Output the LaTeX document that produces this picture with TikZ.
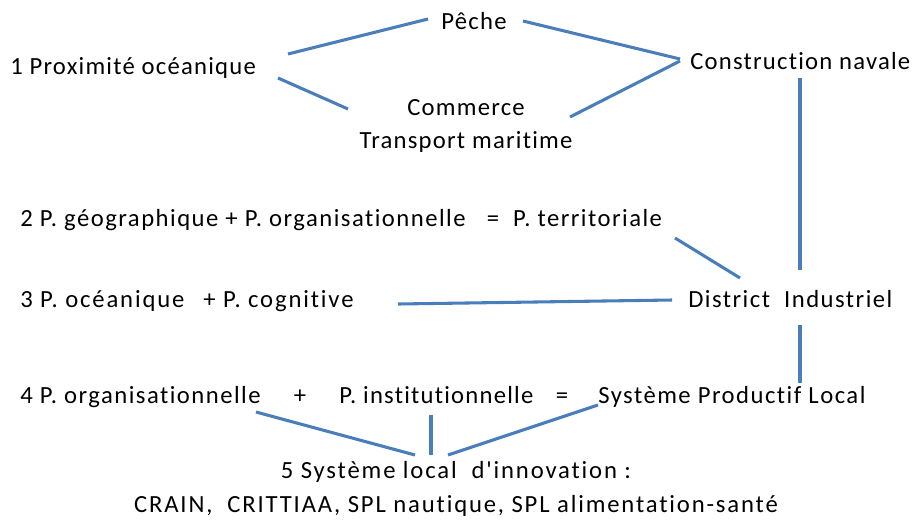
\documentclass[tikz,border=0pt]{standalone}
\usepackage{fontspec}
\setmainfont{Carlito}
\newfontfamily\wide[LetterSpace=5,Ligatures=NoCommon]{Carlito}
\newfontfamily\narrowf[LetterSpace=6,Ligatures=NoCommon]{Carlito}
\newfontfamily\widerf[LetterSpace=7.5,Ligatures=NoCommon]{Carlito}
\definecolor{lnblue}{HTML}{4A7EBB}
\tikzset{
  lbl/.style={inner sep=0pt, font=\fontsize{18.5}{22}\wide, text=black},
  nlbl/.style={inner sep=0pt, font=\fontsize{18.5}{22}\narrowf, text=black},
  wlbl/.style={inner sep=0pt, font=\fontsize{18.5}{22}\widerf, text=black},
  conn/.style={draw=lnblue, line width=2.3pt}
}
\begin{document}
\begin{tikzpicture}[x=0.75pt,y=-0.75pt]
\useasboundingbox (0,0) rectangle (914,519);
% row 1
\node[lbl] (peche) at (474,21) {Pêche};
\node[lbl,anchor=west] (prox) at (10,68) {1 Proximité océanique};
\node[lbl,align=center] (comm) at (466,126) {Commerce\\[3pt]Transport maritime};
\node[lbl,anchor=west] (navale) at (690,61) {Construction navale};
\coordinate (a1) at (288,54); \coordinate (a2) at (428,19);
\coordinate (b1) at (278,78); \coordinate (b2) at (348,109);
\coordinate (c1) at (523,21); \coordinate (c2) at (680,59);
\coordinate (d1) at (570,117); \coordinate (d2) at (680,61);
\draw[conn] (a1) -- (a2);
\draw[conn] (b1) -- (b2);
\draw[conn] (c1) -- (c2);
\draw[conn] (d1) -- (d2);
\coordinate (e1) at (800,78); \coordinate (e2) at (800,270);
\draw[conn] (e1) -- (e2);
% row 2
\node[nlbl,anchor=west] (terr) at (20,220) {2 P. géographique + P. organisationnelle \ \ = \ P. territoriale};
\coordinate (f1) at (675,238); \coordinate (f2) at (740,278);
\draw[conn] (f1) -- (f2);
% row 3
\node[nlbl,anchor=base west] (dist) at (688,307) {District \ Industriel};
\node[wlbl,anchor=base west] (cogn) at (20,307) {3 P. océanique \ \,+ P. cognitive};
\coordinate (g1) at (398,304); \coordinate (g2) at (672,300);
\draw[conn] (g1) -- (g2);
\coordinate (h1) at (800,325); \coordinate (h2) at (800,383);
\draw[conn] (h1) -- (h2);
% row 4
\node[nlbl,anchor=base west] (org) at (20,403) {4 P. organisationnelle};
\node[nlbl,anchor=base] (plus) at (300,403) {+};
\node[lbl,anchor=base west] (inst) at (339,403) {P. institutionnelle};
\node[nlbl,anchor=base] (eq) at (562,403) {=};
\node[nlbl,anchor=base west] (spl) at (598,403) {Système Productif Local};
% row 5
\node[wlbl,anchor=base] (sli) at (456,478) {5 Système local \ d'innovation :};
\node[wlbl,anchor=base] (crain) at (456,512) {CRAIN, \ CRITTIAA, SPL nautique, SPL alimentation-santé};
\coordinate (i1) at (256,412); \coordinate (i2) at (415,455);
\coordinate (j1) at (431,415); \coordinate (j2) at (431,455);
\coordinate (k1) at (598,405); \coordinate (k2) at (448,455);
\draw[conn] (i1) -- (i2);
\draw[conn] (j1) -- (j2);
\draw[conn] (k1) -- (k2);
\end{tikzpicture}
\end{document}
